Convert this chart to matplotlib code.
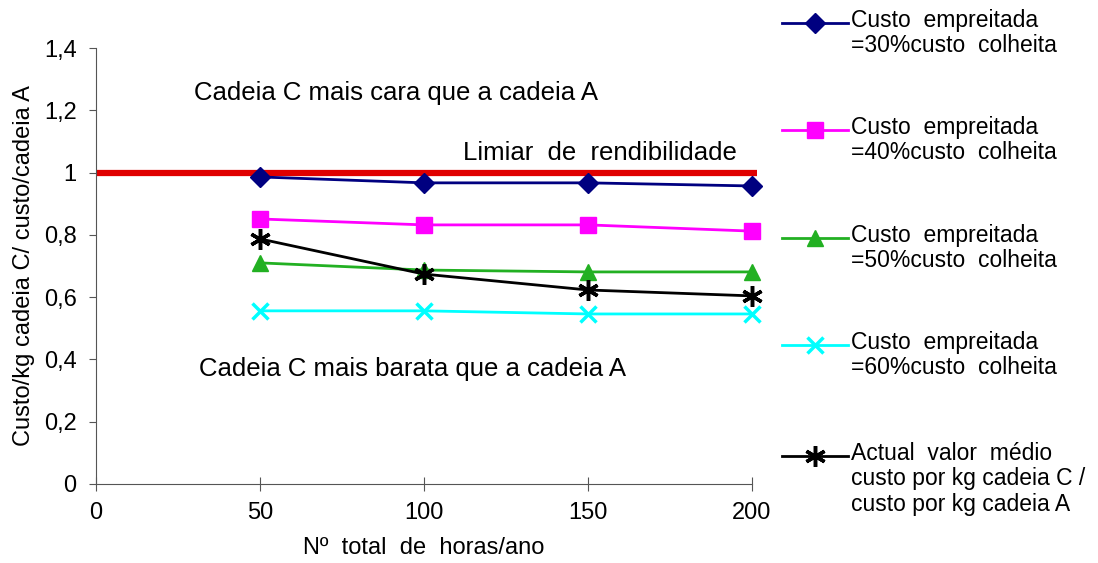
import matplotlib.pyplot as plt
from matplotlib.lines import Line2D

plt.rcParams['font.family'] = ['Liberation Sans', 'DejaVu Sans']

# data
horas = [50, 100, 150, 200]
emp_30 = [0.986, 0.967, 0.967, 0.957]
emp_40 = [0.851, 0.832, 0.832, 0.812]
emp_50 = [0.710, 0.687, 0.681, 0.681]
emp_60 = [0.556, 0.556, 0.546, 0.546]
actual = [0.787, 0.674, 0.623, 0.604]
limiar_x = [0, 201.5]
limiar_y = [1, 1]

labels = ["Custo  empreitada\n=30%custo  colheita",
          "Custo  empreitada\n=40%custo  colheita",
          "Custo  empreitada\n=50%custo  colheita",
          "Custo  empreitada\n=60%custo  colheita",
          "Actual  valor  médio\ncusto por kg cadeia C /\ncusto por kg cadeia A"]

styles = [dict(color='#000080', marker='D', ms=10, mec='#000080'),
          dict(color='#FF00FF', marker='s', ms=11, mec='#FF00FF'),
          dict(color='#22B022', marker='^', ms=12, mec='#22B022'),
          dict(color='#00FFFF', marker='x', ms=11, mew=2.5),
          dict(color='black', marker=(6, 2, 0), ms=15, mew=2.5)]
series = [emp_30, emp_40, emp_50, emp_60, actual]

fig = plt.figure(figsize=(10.98, 5.63), dpi=100)
ax = fig.add_axes([96 / 1098, 79 / 563, (752 - 96) / 1098, (484 - 48) / 563])

ax.plot(limiar_x, limiar_y, color='#E00000', lw=4.5, solid_capstyle='butt', clip_on=False, zorder=1)
for vals, st in zip(series, styles):
    ax.plot(horas, vals, lw=2, clip_on=False, zorder=3, **st)

ax.set_xlim(0, 200)
ax.set_ylim(0, 1.4)
ax.set_xticks([0, 50, 100, 150, 200])
ax.set_yticks([0, 0.2, 0.4, 0.6, 0.8, 1, 1.2, 1.4])
ax.set_yticklabels(['0', '0,2', '0,4', '0,6', '0,8', '1', '1,2', '1,4'])
for s in ['top', 'right']:
    ax.spines[s].set_visible(False)
for s in ['left', 'bottom']:
    ax.spines[s].set_color('#555555')
ax.tick_params(length=5, color='#555555', labelsize=17)
ax.tick_params(axis='x', direction='inout', length=10, pad=8)
ax.tick_params(axis='y', direction='out', pad=9)

ax.set_xlabel("Nº  total  de  horas/ano", fontsize=17, labelpad=9)
ax.set_ylabel("Custo/kg cadeia C/ custo/cadeia A", fontsize=17, labelpad=6)

ax.text(29.8, 1.256, "Cadeia C mais cara que a cadeia A", fontsize=18.5, va='center')
ax.text(112, 1.063, "Limiar  de  rendibilidade", fontsize=18.5, va='center')
ax.text(31.3, 0.369, "Cadeia C mais barata que a cadeia A", fontsize=18.5, va='center')

# legend drawn by hand so the handle sits on the first text line
legend_y = [23, 130, 238, 345, 456]
for yp, lab, st in zip(legend_y, labels, styles):
    yc = 1 - yp / 563
    fig.add_artist(Line2D([782 / 1098, 848 / 1098], [yc, yc], color=st['color'], lw=2))
    mk = {k: v for k, v in st.items() if k != 'color'}
    fig.add_artist(Line2D([815 / 1098], [yc], color=st['color'], ls='none', **mk))
    fig.text(851 / 1098, yc + 14 / 563, lab, fontsize=16.5, va='top', ha='left', linespacing=1.13)

fig.savefig('out.png', dpi=100)
